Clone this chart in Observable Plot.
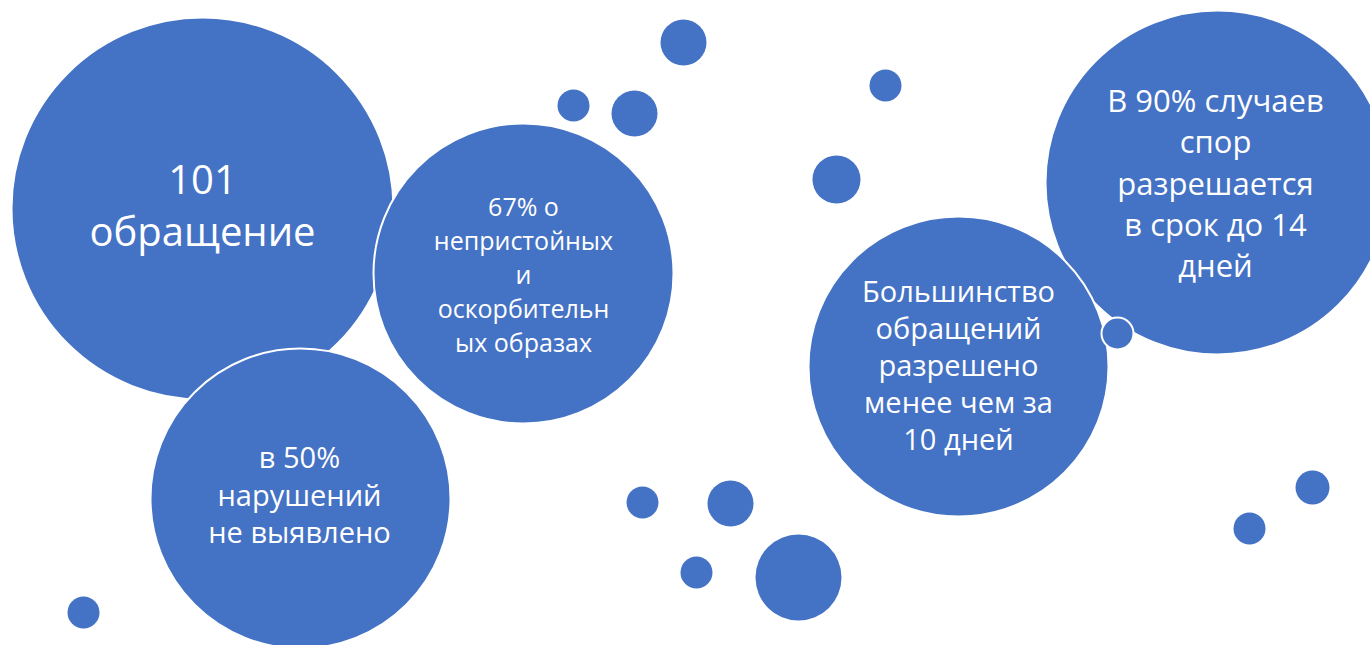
<!DOCTYPE html>
<html>
<head>
<meta charset="utf-8">
<script src="https://cdn.jsdelivr.net/npm/d3@7"></script>
<script src="https://cdn.jsdelivr.net/npm/@observablehq/plot@0.6"></script>
<style>
  html, body { margin: 0; padding: 0; background: #ffffff; overflow: hidden; }
  #chart svg { display: block; }
</style>
</head>
<body>
<div id="chart"></div>
<script>
// Bubble geometry (picture coordinates)
const bubbleX = [1217, 202, 523, 300, 958, 1117, 683, 573, 634, 885, 836, 642, 730, 696, 798, 1312, 1249, 83];
const bubbleY = [182, 208, 273, 498, 366, 333, 42, 105, 113, 85, 179, 502, 503, 572, 577, 487, 528, 612];
const bubbleR = [172, 191, 150, 150, 150, 16, 23, 16, 23, 16, 24, 16, 23, 16, 43, 17, 16, 16];
const bubbleOutlined = [true, true, true, true, true, true, false, false, false, false, false, false, false, false, false, false, false, false];

// Labels
const labelText = [
  "101\nобращение",
  "67% о\nнепристойных\nи\nоскорбительн\nых образах",
  "в 50%\nнарушений\nне выявлено",
  "Большинство\nобращений\nразрешено\nменее чем за\n10 дней",
  "В 90% случаев\nспор\nразрешается\nв срок до 14\nдней"
];
const labelX = [202, 523, 299, 958, 1215];
const labelY = [203, 273, 493, 364, 181];
const labelSize = [40, 25, 29, 29, 31];
const labelLine = [52, 34, 37.5, 37, 41.25];

const W = 1370, H = 645;
const idx = d3.range(bubbleX.length);

const chart = Plot.plot({
  width: W,
  height: H,
  margin: 0,
  x: { domain: [0, W], range: [0, W], axis: null },
  y: { domain: [0, H], range: [0, H], axis: null },
  r: { type: "identity" },
  style: { background: "#ffffff", fontFamily: "'Open Sans', sans-serif" },
  marks: [
    Plot.dot(idx, {
      x: i => bubbleX[i],
      y: i => bubbleY[i],
      r: i => bubbleR[i],
      fill: "#4472C4",
      stroke: i => bubbleOutlined[i] ? "#ffffff" : "none",
      strokeWidth: 2
    }),
    ...labelText.map((t, i) => Plot.text([t], {
      x: () => labelX[i],
      y: () => labelY[i],
      text: d => d,
      fill: "#ffffff",
      fontSize: labelSize[i],
      lineHeight: labelLine[i] / labelSize[i],
      textAnchor: "middle",
      lineAnchor: "middle"
    }))
  ]
});

document.getElementById("chart").appendChild(chart);
</script>
</body>
</html>
